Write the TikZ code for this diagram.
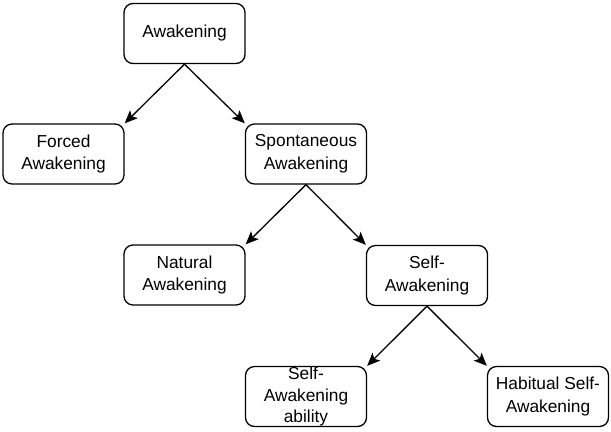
\documentclass[tikz,border=0pt]{standalone}
\usepackage{fontspec}
\setmainfont{Liberation Sans}
\usetikzlibrary{arrows.meta}
\begin{document}
\begin{tikzpicture}[x=1bp,y=-1bp,
  box/.style={draw, line width=1.3bp, rounded corners=9bp, minimum width=121bp, minimum height=60bp,
    inner sep=0pt, align=center, font=\fontsize{17.4}{23}\selectfont},
  arr/.style={line width=1.3bp, -{Stealth[length=13bp,width=11bp,inset=3bp]}}]
\path[use as bounding box] (0,0) rectangle (611,431);
\node[box] (aw) at (184.5,33.5) {Awakening};
\node[box] (fo) at (63.5,154) {Forced\\Awakening};
\node[box] (sp) at (306,154) {Spontaneous\\Awakening};
\node[box] (na) at (184.5,275) {Natural\\Awakening};
\node[box] (se) at (427,275.5) {Self-\\Awakening};
\node[box] (ab) at (306,396.5) {\raisebox{-9bp}{\smash{\parbox[c]{121bp}{\centering\fontsize{17.4}{21.5}\selectfont Self-\\Awakening\\ability}}}};
\node[box] (ha) at (548,396.5) {Habitual Self-\\Awakening};
\draw[arr] (aw.south) -- (fo.north east);
\draw[arr] (aw.south) -- (sp.north west);
\draw[arr] (sp.south) -- (na.north east);
\draw[arr] (sp.south) -- (se.north west);
\draw[arr] (se.south) -- (ab.north east);
\draw[arr] (se.south) -- (ha.north west);
\end{tikzpicture}
\end{document}
